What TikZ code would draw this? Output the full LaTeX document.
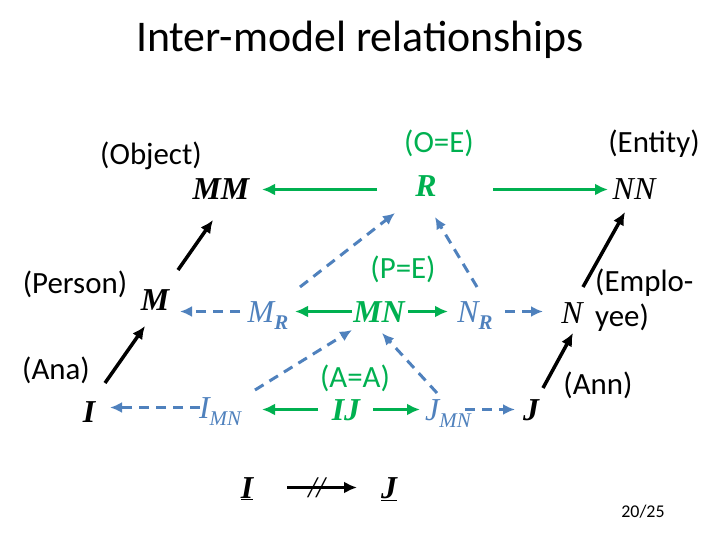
\documentclass[tikz,border=0pt]{standalone}
\usepackage{fontspec}
\setmainfont{Carlito}
\newfontfamily\tnr{Liberation Serif}
\usetikzlibrary{arrows.meta}
\definecolor{mgreen}{RGB}{0,176,80}
\definecolor{mblue}{RGB}{79,129,189}
\newcommand\vbi{\tnr\bfseries\itshape\fontsize{32}{32}\selectfont}
\newcommand\vit{\tnr\itshape\fontsize{32}{32}\selectfont}
\newcommand\vsub[1]{\raisebox{-7bp}[0pt][0pt]{\fontsize{21}{21}\selectfont #1}}
\tikzset{
  lbl/.style={font=\fontsize{31}{35}\selectfont, anchor=base, inner sep=0pt},
  vnode/.style={anchor=base, inner sep=0pt, text height=21bp, text depth=0bp},
  garr/.style={draw=mgreen, line width=3bp, -{Latex[length=13bp,width=12bp]}},
  barr/.style={draw=mblue, line width=3bp, dash pattern=on 10bp off 7bp, -{Latex[length=12bp,width=11bp]}},
  karr/.style={draw=black, line width=3.5bp, -{Latex[length=13bp,width=12bp]}}
}
\begin{document}
\begin{tikzpicture}[x=1bp,y=-1bp]
  \useasboundingbox (0,0) rectangle (720,540);
  \node[lbl, font=\fontsize{44}{44}\selectfont] (title) at (360,52) {Inter-model relationships};
  % top row
  \node[lbl] (lobj) at (151,165) {(Object)};
  \node[lbl, text=mgreen] (loe) at (439,153) {(O=E)};
  \node[lbl] (lent) at (654,153) {(Entity)};
  \node[vnode, font=\vbi] (MM) at (221,200) {MM};
  \node[vnode, font=\vbi, text=mgreen] (R) at (426,197) {R};
  \node[vnode, font=\vit] (NN) at (634,200) {NN};
  % middle row
  \node[lbl] (lper) at (75,293) {(Person)};
  \node[vnode, font=\vbi] (M) at (155,310) {M};
  \node[vnode, font=\vit, text=mblue] (MR) at (268,322) {M\vsub{\bfseries R}};
  \node[lbl, text=mgreen] (lpe) at (403,279) {(P=E)};
  \node[vnode, font=\vbi, text=mgreen] (MN) at (379,322) {MN};
  \node[vnode, font=\vit, text=mblue] (NR) at (475,322) {N\vsub{\bfseries R}};
  \node[vnode, font=\vit] (N) at (572,323) {N};
  \node[lbl, align=left, anchor=west] (lemp) at (595,300) {(Emplo-\\yee)};
  % bottom row
  \node[lbl] (lana) at (56,379) {(Ana)};
  \node[vnode, font=\vbi] (I) at (89,422) {I};
  \node[vnode, font=\vit, text=mblue] (IMN) at (220,418) {I\vsub{MN}};
  \node[lbl, text=mgreen] (lAA) at (355,387) {(A=A)};
  \node[vnode, font=\vbi, text=mgreen] (IJ) at (346,420) {IJ};
  \node[vnode, font=\vit, text=mblue] (JMN) at (448,420) {J\vsub{MN}};
  \node[vnode, font=\vbi] (J) at (531,420) {J};
  \node[lbl] (lann) at (598,394) {(Ann)};
  % footer
  \node[vnode, font=\vbi] (uI) at (247,498) {\underline{I}};
  \node[vnode, font=\vbi] (uJ) at (389,498) {\underline{J}};
  \node[lbl, font=\fontsize{18}{18}\selectfont] (page) at (643,517) {20/25};
  % green arrows
  \draw[garr, shorten <=49bp, shorten >=41bp] (R.center |- MM.center) -- (MM.center);
  \draw[garr, shorten <=67bp, shorten >=26bp] (R.center |- NN.center) -- (NN.center);
  \draw[garr, shorten <=27bp, shorten >=27bp] (MN.center) -- (MR.center);
  \draw[garr, shorten <=29bp, shorten >=27bp] (MN.center) -- (NR.center);
  \draw[garr, shorten <=28bp, shorten >=42bp] (IJ.center) -- (IJ.center -| IMN.center);
  \draw[garr, shorten <=27bp, shorten >=28bp] (IJ.center) -- (IJ.center -| JMN.center);
  % blue dashed arrows
  \draw[barr, shorten <=28bp, shorten >=25bp] (MR.center) -- (MR.center -| M.center);
  \draw[barr, shorten <=30bp, shorten >=29bp] (NR.center) -- (NR.center -| N.center);
  \draw[barr, shorten <=20bp, shorten >=21bp] (IMN.center) -- (IMN.center -| I.center);
  \draw[barr, shorten <=17bp, shorten >=16bp] (JMN.center) -- (JMN.center -| J.center);
  \draw[barr] ([shift={(32,-24.5)}]MR.center) -- ([shift={(-31,26.5)}]R.center);
  \draw[barr] ([shift={(2,-24.5)}]NR.center) -- ([shift={(9,30.5)}]R.center);
  \draw[barr] ([shift={(35,-17.5)}]IMN.center) -- ([shift={(-27,18.5)}]MN.center);
  \draw[barr] ([shift={(-11,-16.5)}]JMN.center) -- ([shift={(3,21.5)}]MN.center);
  % black arrows
  \draw[karr] ([shift={(16,-28.5)}]I.center) -- ([shift={(-10,26.5)}]M.center);
  \draw[karr] ([shift={(23,-29.5)}]M.center) -- ([shift={(-8,30.5)}]MM.center);
  \draw[karr] ([shift={(12,-21.5)}]J.center) -- ([shift={(1,20.5)}]N.center);
  \draw[karr] ([shift={(11,-25.5)}]N.center) -- ([shift={(-9,22.5)}]NN.center);
  \draw[karr, line width=3bp, shorten <=40bp, shorten >=32bp] (uI.center) -- (uJ.center)
    node[pos=0.49, font=\tnr\itshape\fontsize{30}{30}\selectfont] (slash) {//};
\end{tikzpicture}
\end{document}
